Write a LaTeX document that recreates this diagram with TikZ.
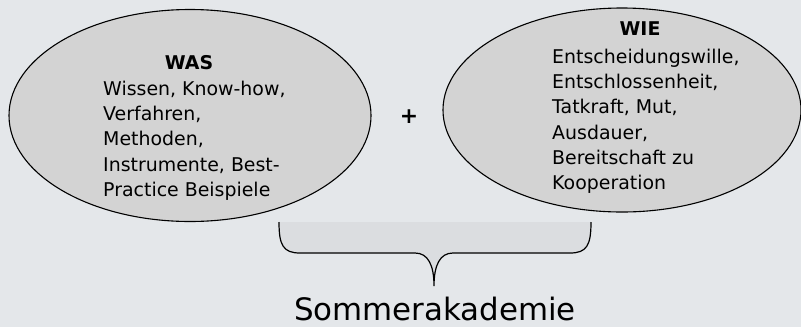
\documentclass[tikz,border=0pt]{standalone}
\usepackage{fontspec}
\setmainfont{DejaVu Sans}
\usetikzlibrary{shapes.geometric}
\definecolor{bgc}{RGB}{228,231,234}
\definecolor{ellc}{RGB}{211,211,211}
\definecolor{bracec}{RGB}{219,221,224}
\tikzset{
  blob/.style={ellipse, draw=black, line width=1.1bp, fill=ellc, inner sep=0pt},
  body/.style={align=left, anchor=north west, inner sep=0pt, font=\fontsize{19}{25.3}\selectfont},
  head/.style={inner sep=0pt, font=\fontsize{19}{20}\selectfont\bfseries},
}
\begin{document}
\begin{tikzpicture}[x=1bp,y=-1bp]
\fill[bgc] (0,0) rectangle (801,327);
\useasboundingbox (0,0) rectangle (801,327);
\node[blob, minimum width=362bp, minimum height=212bp] (was) at (190,115.5) {};
\node[blob, minimum width=358bp, minimum height=204bp] (wie) at (622,110) {};
\node[head] (washead) at (189,63) {WAS};
\node[body] (wastext) at (103,81) {Wissen, Know-how,\\Verfahren,\\Methoden,\\Instrumente, Best-\\Practice Beispiele};
\node[head] (wiehead) at (640,29) {WIE};
\node[body] (wietext) at (552,49) {Entscheidungswille,\\Entschlossenheit,\\Tatkraft, Mut,\\Ausdauer,\\Bereitschaft zu\\Kooperation};
\node[inner sep=0pt, font=\fontsize{22}{26}\selectfont\bfseries] (plus) at (409,117) {+};
\fill[bracec] (279,222) -- (591,222) -- (591,225) .. controls (591,245) and (587,253) .. (570,253) -- (453,253) .. controls (440,253) and (434,265) .. (434,286) .. controls (434,265) and (428,253) .. (415,253) -- (300,253) .. controls (283,253) and (279,245) .. (279,225) -- cycle;
\draw[line width=1.2bp] (279,222) .. controls (279,245) and (283,253) .. (300,253) -- (415,253) .. controls (428,253) and (434,265) .. (434,286) .. controls (434,265) and (440,253) .. (453,253) -- (570,253) .. controls (587,253) and (591,245) .. (591,222);
\node[inner sep=0pt, font=\fontsize{31}{34}\selectfont] (somm) at (435,309) {Sommerakademie};
\end{tikzpicture}
\end{document}
